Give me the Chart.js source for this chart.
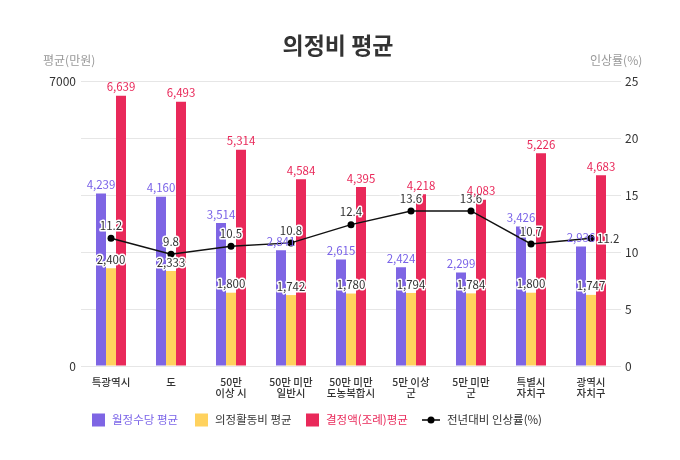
<!DOCTYPE html>
<html><head><meta charset="utf-8">
<script src="https://cdn.jsdelivr.net/npm/chart.js@4.4.0/dist/chart.umd.min.js"></script>
<style>html,body{margin:0;padding:0;background:#fff}#wrap{width:680px;height:460px}</style>
</head><body><div id="wrap"><canvas id="c" width="680" height="460"></canvas></div>
<script>
const categories = [['특광역시'],['도'],['50만','이상 시'],['50만 미만','일반시'],['50만 미만','도농복합시'],['5만 이상','군'],['5만 미만','군'],['특별시','자치구'],['광역시','자치구']];
const monthlyAllowance = [4239,4160,3514,2841,2615,2424,2299,3426,2936];
const activityExpense = [2400,2333,1800,1742,1780,1794,1784,1800,1747];
const decidedAmount = [6639,6493,5314,4584,4395,4218,4083,5226,4683];
const increaseRate = [11.2,9.8,10.5,10.8,12.4,13.6,13.6,10.7,11.2];
const leftTicks = [0,7000];
const rightTicks = [0,5,10,15,20,25];
const seriesNames = ['월정수당 평균','의정활동비 평균','결정액(조례)평균','전년대비 인상률(%)'];

const FONT = '"Noto Sans CJK KR","Noto Sans",sans-serif';
const PURPLE='#7e65e4', YELLOW='#ffd25e', RED='#e9295a', DARK='#333333';
const fmt = v => v.toLocaleString('en-US');

const labelPlugin = {
  id:'labels',
  afterDatasetsDraw(chart){
    const ctx = chart.ctx;
    ctx.save();
    ctx.font = '11.5px '+FONT;
    ctx.textAlign='center';
    ctx.textBaseline='bottom';
    chart.data.datasets.forEach((ds,di)=>{
      const meta = chart.getDatasetMeta(di);
      meta.data.forEach((el,i)=>{
        const v = ds.data[i];
        if (ds.type==='line'){
          const txt = v.toFixed(1);
          ctx.lineWidth=3; ctx.strokeStyle='#fff'; ctx.lineJoin='round';
          ctx.fillStyle=DARK;
          if (i===ds.data.length-1){
            ctx.textAlign='left'; ctx.textBaseline='middle';
            ctx.strokeText(txt, el.x+6, el.y); ctx.fillText(txt, el.x+6, el.y);
            ctx.textAlign='center'; ctx.textBaseline='bottom';
          } else {
            ctx.strokeText(txt, el.x, el.y-7); ctx.fillText(txt, el.x, el.y-7);
          }
        } else {
          const txt = fmt(v);
          if (ds.labelOutline){
            ctx.lineWidth=3; ctx.strokeStyle='#fff'; ctx.lineJoin='round';
            ctx.strokeText(txt, el.x, el.y-3);
          }
          ctx.fillStyle = ds.labelColor;
          ctx.fillText(txt, el.x, el.y-3);
        }
      });
    });
    ctx.restore();
  }
};

const decorPlugin = {
  id:'decor',
  afterDraw(chart){
    const ctx = chart.ctx;
    ctx.save();
    ctx.fillStyle=DARK;
    ctx.font='bold 23px '+FONT;
    ctx.textAlign='center'; ctx.textBaseline='middle';
    ctx.fillText('의정비 평균', 338, 45);
    ctx.font='12px '+FONT; ctx.fillStyle='#999';
    ctx.textAlign='left';
    ctx.fillText('평균(만원)', 43, 60);
    ctx.fillText('인상률(%)', 590, 60);
    // legend
    const cy = 420;
    const items = [
      {x:92, color:PURPLE, text:seriesNames[0], tc:'#7a63e8'},
      {x:195, color:YELLOW, text:seriesNames[1], tc:DARK},
      {x:306, color:RED, text:seriesNames[2], tc:RED},
    ];
    ctx.font='11.5px '+FONT; ctx.textBaseline='middle';
    items.forEach(it=>{
      ctx.fillStyle=it.color; ctx.fillRect(it.x, cy-6.5, 13, 13);
      ctx.fillStyle=it.tc; ctx.fillText(it.text, it.x+20, cy);
    });
    ctx.strokeStyle='#000'; ctx.lineWidth=1.5;
    ctx.beginPath(); ctx.moveTo(422,cy); ctx.lineTo(440,cy); ctx.stroke();
    ctx.fillStyle='#000'; ctx.beginPath(); ctx.arc(431,cy,3.5,0,Math.PI*2); ctx.fill();
    ctx.fillStyle=DARK; ctx.fillText(seriesNames[3], 447, cy);
    ctx.restore();
  }
};

new Chart(document.getElementById('c'), {
  data:{
    labels:categories,
    datasets:[
      {type:'line', label:seriesNames[3], data:increaseRate, yAxisID:'y1', borderColor:'#111', backgroundColor:'#111',
       borderWidth:1.5, pointRadius:3.5, pointBackgroundColor:'#000', pointBorderWidth:0, tension:0, order:0},
      {type:'bar', label:seriesNames[0], data:monthlyAllowance, backgroundColor:PURPLE, yAxisID:'y', order:1, labelColor:'#7a63e8'},
      {type:'bar', label:seriesNames[1], data:activityExpense, backgroundColor:YELLOW, yAxisID:'y', order:1, labelColor:DARK, labelOutline:true},
      {type:'bar', label:seriesNames[2], data:decidedAmount, backgroundColor:RED, yAxisID:'y', order:1, labelColor:RED},
    ]
  },
  options:{
    responsive:false, animation:false, devicePixelRatio:1,
    layout:{padding:{top:81,bottom:50,left:0,right:0}},
    datasets:{bar:{categoryPercentage:0.5, barPercentage:1.0, borderWidth:0}},
    plugins:{legend:{display:false}, tooltip:{enabled:false}, title:{display:false}},
    scales:{
      x:{grid:{display:false}, border:{display:false},
         ticks:{color:DARK, font:{family:FONT,size:10.5,weight:'500',lineHeight:1.1}, padding:2, maxRotation:0, autoSkip:false},
         afterFit(s){s.height=44;}},
      y:{position:'left', min:0, max:7000, border:{display:false},
         grid:{color:'#e6e6e6', drawTicks:false, lineWidth:1},
         afterBuildTicks(s){s.ticks=[0,1400,2800,4200,5600,7000].map(v=>({value:v}));},
         ticks:{color:DARK, font:{family:FONT,size:12}, padding:5, callback:v=>leftTicks.includes(v)?String(v):''},
         afterFit(s){s.width=81;}},
      y1:{position:'right', min:0, max:25, border:{display:false},
         grid:{display:false, drawTicks:false},
         afterBuildTicks(s){s.ticks=rightTicks.map(v=>({value:v}));},
         ticks:{color:DARK, font:{family:FONT,size:12}, padding:4},
         afterFit(s){s.width=59;}}
    }
  },
  plugins:[labelPlugin, decorPlugin]
});
</script></body></html>
